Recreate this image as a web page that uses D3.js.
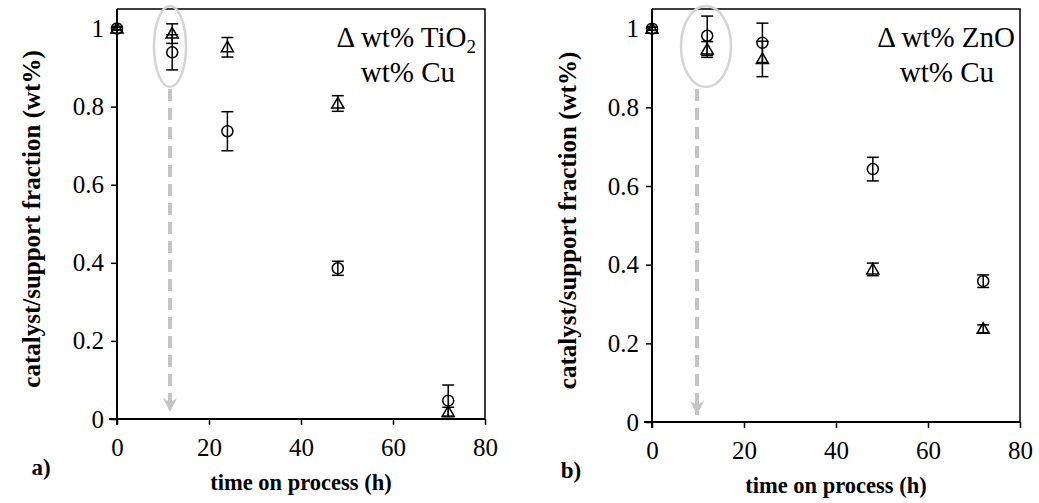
<!DOCTYPE html>
<html>
<head>
<meta charset="utf-8">
<script src="https://cdn.jsdelivr.net/npm/d3@7/dist/d3.min.js"></script>
<style>
  html, body { margin: 0; padding: 0; background: #fff; }
  svg { display: block; font-family: "Liberation Serif", "Times New Roman", serif; }
  svg text { font-family: "Liberation Serif", "Times New Roman", serif; }
</style>
</head>
<body>
<svg id="chart" width="1039" height="503"></svg>
<script>
// Sampling times (h)
const times = [0, 12, 24, 48, 72];

// Panel a: Cu/TiO2 catalyst
const tio2Frac = [1.0, 0.987, 0.952, 0.808, 0.018];
const tio2Err  = [0.004, 0.025, 0.025, 0.02, 0.012];
const cuFracA  = [1.0, 0.939, 0.737, 0.386, 0.047];
const cuErrA   = [0.004, 0.045, 0.05, 0.018, 0.04];

// Panel b: Cu/ZnO catalyst
const znoFrac  = [1.0, 0.947, 0.923, 0.388, 0.237];
const znoErr   = [0.004, 0.02, 0.045, 0.016, 0.01];
const cuFracB  = [1.0, 0.982, 0.964, 0.643, 0.358];
const cuErrB   = [0.004, 0.05, 0.05, 0.03, 0.016];

const xTicks = [0, 20, 40, 60, 80];
const yTicks = [0, 0.2, 0.4, 0.6, 0.8, 1];
const xTitle = "time on process (h)";
const yTitle = "catalyst/support fraction  (wt%)";

const panels = [
  { tag: "a)", support: "TiO", sub: "2", tri: tio2Frac, triErr: tio2Err, circ: cuFracA, circErr: cuErrA,
    x0: 117, x1: 485, y0: 419, y1: 9, arrowX: 170, ell: { cx: 170, cy: 46.5, rx: 16, ry: 40.5 },
    yLabX: 31, tagX: 41 },
  { tag: "b)", support: "ZnO", sub: "", tri: znoFrac, triErr: znoErr, circ: cuFracB, circErr: cuErrB,
    x0: 652, x1: 1020, y0: 422, y1: 9, arrowX: 697, ell: { cx: 706, cy: 46.5, rx: 25, ry: 40.5 },
    yLabX: 567, tagX: 571 }
];

const svg = d3.select("#chart");
const defs = svg.append("defs");
defs.append("marker")
  .attr("id", "arrowhead")
  .attr("viewBox", "0 0 10 10")
  .attr("refX", 10).attr("refY", 5)
  .attr("markerUnits", "userSpaceOnUse")
  .attr("markerWidth", 15).attr("markerHeight", 14)
  .attr("orient", "auto")
  .append("path")
  .attr("d", "M0,0 L10,5 L0,10 L3,5 Z")
  .attr("fill", "#c4c4c4");

panels.forEach(p => {
  const x = d3.scaleLinear().domain([0, 80]).range([p.x0, p.x1]);
  const y = d3.scaleLinear().domain([0, 1.05]).range([p.y0, p.y1]);
  const g = svg.append("g");

  // plot frame (top and right edges)
  g.append("path")
    .attr("d", `M${p.x0},${p.y1} H${p.x1} V${p.y0}`)
    .attr("fill", "none").attr("stroke", "#000").attr("stroke-width", 1.5);

  // axes
  const xAxis = g.append("g").attr("transform", `translate(0,${p.y0})`)
    .call(d3.axisBottom(x).tickValues(xTicks).tickFormat(d3.format("d")).tickSize(6).tickSizeOuter(0));
  const yAxis = g.append("g").attr("transform", `translate(${p.x0},0)`)
    .call(d3.axisLeft(y).tickValues(yTicks).tickFormat(d => d === 0 || d === 1 ? d3.format("d")(d) : d3.format(".1f")(d)).tickSize(6).tickSizeOuter(0));
  [xAxis, yAxis].forEach(a => {
    a.attr("font-family", null).attr("font-size", null);
    a.select(".domain").attr("stroke", "#000").attr("stroke-width", 2);
    a.selectAll(".tick line").attr("stroke", "#000").attr("stroke-width", 1.5);
    a.selectAll(".tick text").attr("fill", "#000").attr("font-size", 25);
  });
  xAxis.select(".domain").attr("d", `M${p.x0 - 8},0 H${p.x1}`);
  yAxis.select(".domain").attr("d", `M0,${p.y0 + 6} V${p.y1}`);
  xAxis.selectAll(".tick text").attr("dy", "0.71em").attr("y", 19);
  yAxis.selectAll(".tick text").attr("x", -13);

  // axis titles
  g.append("text")
    .attr("x", (p.x0 + p.x1) / 2).attr("y", p.y0 + 71)
    .attr("text-anchor", "middle").attr("font-weight", "bold").attr("font-size", 22.5)
    .text(xTitle);
  g.append("text")
    .attr("transform", `translate(${p.yLabX},${(p.y0 + p.y1) / 2 + 5}) rotate(-90)`)
    .attr("text-anchor", "middle").attr("dy", "0.35em").attr("font-weight", "bold").attr("font-size", 25)
    .text(yTitle);
  g.append("text")
    .attr("x", p.tagX).attr("y", p.y0 + 56)
    .attr("text-anchor", "middle").attr("font-weight", "bold").attr("font-size", 23)
    .text(p.tag);

  // highlight of the 12 h samples
  g.append("ellipse")
    .attr("cx", p.ell.cx).attr("cy", p.ell.cy).attr("rx", p.ell.rx).attr("ry", p.ell.ry)
    .attr("fill", "none").attr("stroke", "#d4d4d4").attr("stroke-width", 2.5);
  g.append("line")
    .attr("x1", p.arrowX).attr("x2", p.arrowX)
    .attr("y1", p.ell.cy + p.ell.ry + 2).attr("y2", p.y0 - 7)
    .attr("stroke", "#c4c4c4").attr("stroke-width", 4).attr("stroke-dasharray", "12,7")
    .attr("marker-end", "url(#arrowhead)");

  // series: circles (Cu) and triangles (support)
  const series = [
    { vals: p.circ, errs: p.circErr, shape: d3.symbolCircle, size: 95 },
    { vals: p.tri, errs: p.triErr, shape: d3.symbolTriangle, size: 64 }
  ];
  series.forEach(s => {
    const pts = times.map((t, i) => ({ t, v: s.vals[i], e: s.errs[i] }));
    const eg = g.append("g").attr("stroke", "#000").attr("stroke-width", 1.5);
    pts.forEach(d => {
      const cx = x(d.t), yt = y(d.v + d.e), yb = y(d.v - d.e);
      eg.append("line").attr("x1", cx).attr("x2", cx).attr("y1", yt).attr("y2", yb);
      eg.append("line").attr("x1", cx - 6).attr("x2", cx + 6).attr("y1", yt).attr("y2", yt);
      eg.append("line").attr("x1", cx - 6).attr("x2", cx + 6).attr("y1", yb).attr("y2", yb);
    });
    g.append("g").selectAll("path").data(pts).join("path")
      .attr("transform", d => `translate(${x(d.t)},${y(d.v) + (s.shape === d3.symbolTriangle ? 1 : 0)})`)
      .attr("d", d3.symbol().type(s.shape).size(s.size))
      .attr("fill", "none").attr("stroke", "#000").attr("stroke-width", 1.5);
  });

  // legend text
  const leg = g.append("text").attr("font-size", 29).attr("text-anchor", "end")
    .attr("x", p.x1 - (p.sub ? 9 : 5)).attr("y", p.y1 + 38);
  leg.append("tspan").text("\u0394 wt% " + p.support);
  if (p.sub) leg.append("tspan").attr("font-size", 19).attr("dy", 6).text(p.sub);
  g.append("text").attr("font-size", 29).attr("text-anchor", "end")
    .attr("x", p.x1 - (p.sub ? 30 : 26)).attr("y", p.y1 + 73)
    .text("wt% Cu");
});
</script>
</body>
</html>
